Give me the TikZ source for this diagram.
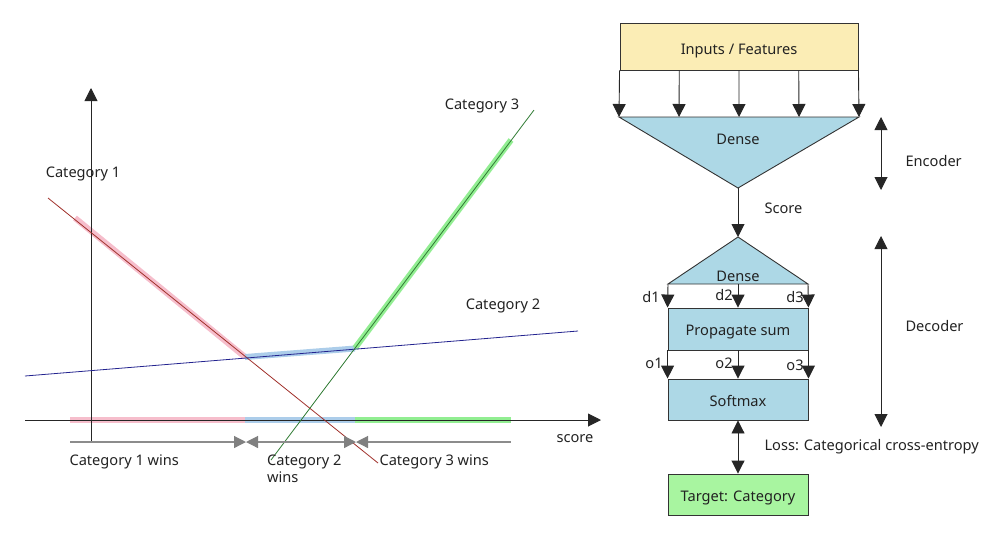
\documentclass[tikz,border=0pt]{standalone}
\usepackage{fontspec}
\setmainfont{Noto Sans}
\usetikzlibrary{arrows.meta,calc}
\definecolor{yel}{HTML}{FBEDB5}
\definecolor{lblue}{HTML}{ADD8E6}
\definecolor{lgreen}{HTML}{A8F5A0}
\definecolor{hpink}{HTML}{F5B7C6}
\definecolor{hblue}{HTML}{A3C8E8}
\definecolor{hgreen}{HTML}{86EC86}
\definecolor{redl}{HTML}{A0302A}
\definecolor{bluel}{HTML}{23238F}
\definecolor{greenl}{HTML}{2E7A32}
\definecolor{txt}{HTML}{222222}
\tikzset{
  gtip/.tip={Triangle[length=12pt,width=12pt,color=black!50]},
  btip/.tip={Triangle[length=13pt,width=13pt]},
}
\tikzset{
  x=1pt,y=-1pt,
  every node/.style={font=\fontsize{14.6}{17}\selectfont,text=txt},
  low/.style={text height=13pt,text depth=0pt},
  arr/.style={draw=black!85,line width=0.9pt,-{btip}},
  darr/.style={draw=black!85,line width=0.9pt,{btip}-{btip}},
  garr/.style={draw=black!45,line width=1.2pt},
  boxb/.style={draw=black!80,line width=0.9pt,minimum width=140pt,inner sep=0pt,low},
  hl/.style={line width=6pt,opacity=0.9},
}
\begin{document}
\begin{tikzpicture}
\useasboundingbox (0,0) rectangle (1000,542);
% ---------------- left chart ----------------
% highlights
\draw[hl,hpink] (75,218) -- (245,357);
\draw[hl,hblue] (245,357) -- (355,348.5);
\draw[hl,hgreen] (355,348) -- (511,140);
\draw[hl,hpink] (70,420) -- (245,420);
\draw[hl,hblue] (245,420) -- (355,420);
\draw[hl,hgreen] (355,420) -- (511,420);
% axes
\coordinate (yb) at (91,442);
\coordinate (yt) at (91,88);
\coordinate (xl) at (25,420);
\coordinate (xr) at (601,420);
\draw[arr] (yb) -- (yt);
\draw[arr] (xl) -- (xr);
% lines
\draw[redl,line width=0.8pt] (48,198) -- (378,463);
\draw[bluel,line width=0.8pt] (25,376) -- (578,331);
\draw[greenl,line width=0.8pt] (271,460) -- (534,110);
% win ranges
\coordinate (w0) at (70,442);
\coordinate (w1) at (246,442);
\coordinate (w2) at (356,442);
\coordinate (w3) at (511,442);
\draw[garr,-{gtip}] (w0) -- (w1);
\draw[garr,{gtip}-{gtip}] (w1) -- (w2);
\draw[garr,{gtip}-] (w2) -- (w3);
% labels
\node (c1) at (83,174) {Category 1};
\node (c2) at (503,306) {Category 2};
\node (c3) at (482,106) {Category 3};
\node (sc) at (575,439) {score};
\node[anchor=west] (c1w) at (66,462) {Category 1 wins};
\node[anchor=north west,align=left,inner sep=0pt] (c2w) at (267,455) {Category 2\\wins};
\node[anchor=west] (c3w) at (376,462) {Category 3 wins};
% ---------------- right diagram ----------------
\node[draw=black!80,line width=0.9pt,fill=yel,minimum width=238pt,minimum height=47pt,inner sep=0pt,text height=15pt,text depth=0pt] (inp) at (739,46.5) {Inputs / Features};
\coordinate (t1L) at (619,117);
\coordinate (t1R) at (859,117);
\coordinate (t1B) at (738,188);
\filldraw[fill=lblue,draw=black!80,line width=0.9pt] (t1L) -- (t1R) -- (t1B) -- cycle;
\node (dense1) at (738,139) {Dense};
\foreach \k in {0,0.25,0.5,0.75,1}{
  \draw[arr] ($(inp.south west)!\k!(inp.south east)$) -- ($(t1L)!\k!(t1R)$);
}
\coordinate (t2A) at (738,237);
\coordinate (t2L) at (668,284);
\coordinate (t2R) at (808,284);
\coordinate (t2M) at (738,284);
\filldraw[fill=lblue,draw=black!80,line width=0.9pt] (t2L) -- (t2A) -- (t2R) -- cycle;
\node (dense2) at (738,276) {Dense};
\draw[arr] (t1B) -- (t2A);
\node[anchor=west] (score) at (761,208) {Score};
\node[boxb,fill=lblue,minimum height=42pt] (prop) at (738,329) {Propagate sum};
\node[boxb,fill=lblue,minimum height=41pt] (soft) at (738,399.5) {Softmax};
\node[boxb,fill=lgreen,minimum height=41pt] (targ) at (738,494.5) {Target: Category};
\draw[arr] (t2L) -- (prop.north west);
\draw[arr] (t2M) -- (prop.north);
\draw[arr] (t2R) -- (prop.north east);
\draw[arr] (prop.south west) -- (soft.north west);
\draw[arr] (prop.south) -- (soft.north);
\draw[arr] (prop.south east) -- (soft.north east);
\draw[darr] (soft.south) -- (targ.north);
\node (d1) at (651,297) {d1};
\node (d2) at (724,295) {d2};
\node (d3) at (795,297) {d3};
\node (o1) at (654,363) {o1};
\node (o2) at (724,363) {o2};
\node (o3) at (795,365) {o3};
\node[anchor=west] (loss) at (761,447) {Loss: Categorical cross-entropy};
% encoder / decoder
\coordinate (e1) at (881,117);
\coordinate (e2) at (881,190);
\coordinate (e3) at (881,236);
\coordinate (e4) at (881,427);
\draw[darr] (e1) -- (e2);
\draw[darr] (e3) -- (e4);
\node[anchor=west] (enc) at (902,161) {Encoder};
\node[anchor=west] (dec) at (902,326) {Decoder};
\end{tikzpicture}
\end{document}
